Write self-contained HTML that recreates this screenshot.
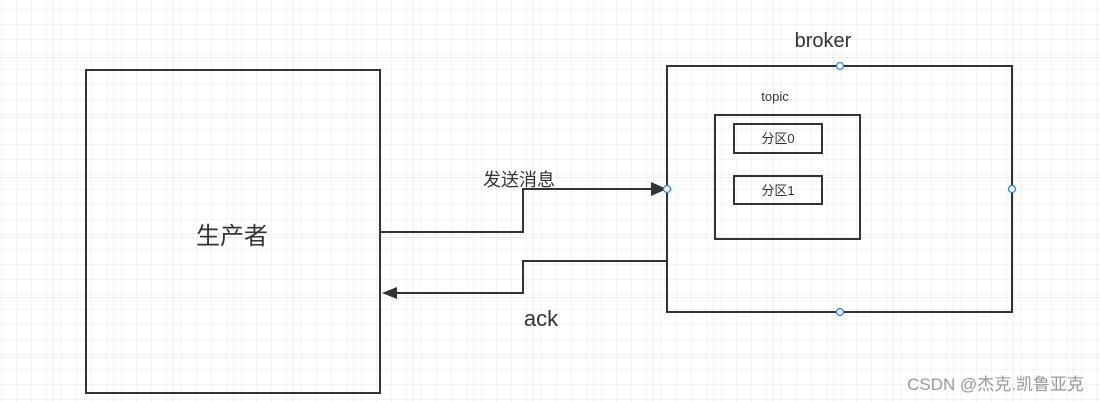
<!DOCTYPE html>
<html><head><meta charset="utf-8"><style>
body{margin:0;width:1100px;height:402px;overflow:hidden;background:#fff;}
svg{display:block}
text{font-family:"Liberation Sans","Noto Sans CJK SC",sans-serif;fill:#333}
</style></head><body>
<svg width="1100" height="402" xmlns="http://www.w3.org/2000/svg">
<defs>
<pattern id="g" width="15" height="15" patternUnits="userSpaceOnUse" x="8" y="12">
<path d="M0 0H15M0 0V15" stroke="#e8e8e8" stroke-width="1" fill="none"/>
</pattern>
<pattern id="G" width="60" height="60" patternUnits="userSpaceOnUse" x="53" y="57">
<rect width="60" height="60" fill="url(#g)"/>
<path d="M0 0H60M0 0V60" stroke="#dcdcdc" stroke-width="1" fill="none"/>
</pattern>
</defs>
<rect width="1100" height="402" fill="url(#G)"/>
<g fill="none" stroke="#333" stroke-width="2">
<rect x="86" y="70" width="294" height="323"/>
<rect x="667" y="66" width="345" height="246"/>
<rect x="715" y="115" width="145" height="124"/>
<rect x="734" y="124" width="88" height="29"/>
<rect x="734" y="176" width="88" height="28"/>
</g>
<g fill="none" stroke="#333" stroke-width="2">
<path d="M380 232H523V189H652"/>
<path d="M667 261H523V293H396"/>
</g>
<path d="M651 182L667 189L651 196Z" fill="#333"/>
<path d="M382 293L397 287L397 299Z" fill="#333"/>
<g fill="#fff" stroke="#2b84f0" stroke-width="1.3">
<circle cx="840" cy="66" r="3.5"/><circle cx="667" cy="189" r="3.5"/>
<circle cx="1012" cy="189" r="3.5"/><circle cx="840" cy="312" r="3.5"/>
</g>
<text x="232" y="244" font-size="24" text-anchor="middle">生产者</text>
<text x="823" y="47" font-size="20" text-anchor="middle">broker</text>
<text x="775" y="101" font-size="13" text-anchor="middle">topic</text>
<text x="778" y="143" font-size="13" text-anchor="middle">分区0</text>
<text x="778" y="195" font-size="13" text-anchor="middle">分区1</text>
<text x="519" y="186" font-size="18" text-anchor="middle">发送消息</text>
<text x="541" y="326" font-size="22" text-anchor="middle">ack</text>
<text x="1084" y="390" font-size="17" text-anchor="end" style="fill:#999">CSDN @杰克.凯鲁亚克</text>
</svg>
</body></html>
